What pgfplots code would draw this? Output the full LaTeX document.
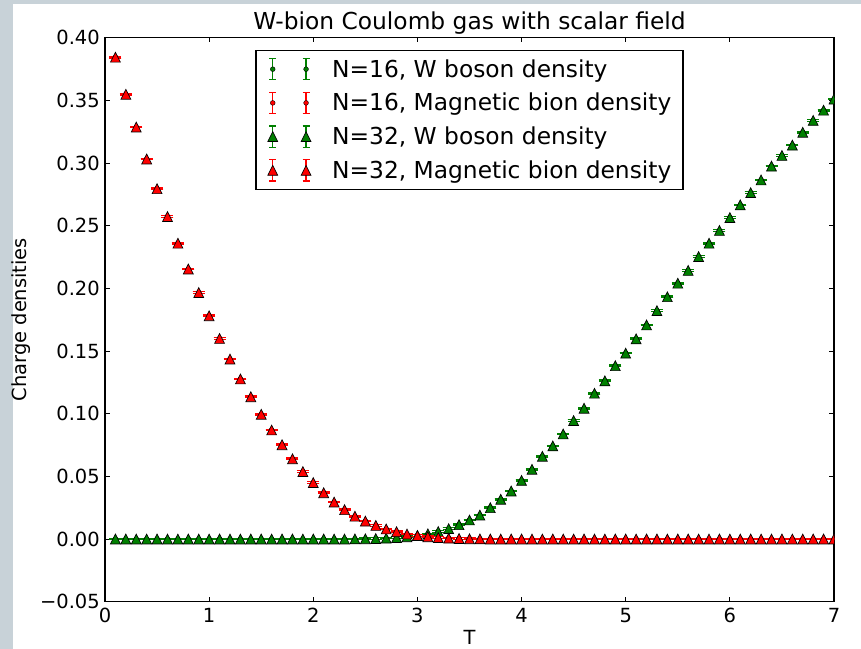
\documentclass[border=0pt]{standalone}
\usepackage{fontspec}
\setmainfont{DejaVu Sans}
\usepackage{pgfplots}
\pgfplotsset{compat=1.18}
\usepackage{pgfplotstable}

\definecolor{mplgreen}{RGB}{0,128,0}
\definecolor{mplred}{RGB}{255,0,0}
\definecolor{bggray}{RGB}{200,210,216}

% matplotlib style '^' marker: box-centred triangle
\pgfdeclareplotmark{mtri}{%
  \pgfpathmoveto{\pgfqpoint{0pt}{\pgfplotmarksize}}%
  \pgfpathlineto{\pgfqpoint{-\pgfplotmarksize}{-\pgfplotmarksize}}%
  \pgfpathlineto{\pgfqpoint{\pgfplotmarksize}{-\pgfplotmarksize}}%
  \pgfpathclose\pgfusepathqfillstroke}

% legend symbol: two points with error bars
\newcommand{\legbar}[2]{%
  \draw[#1, line width=0.9pt] (#2,-8pt) -- (#2,8pt)
    ([xshift=-2.6pt]#2,-8pt) -- ([xshift=2.6pt]#2,-8pt)
    ([xshift=-2.6pt]#2,8pt) -- ([xshift=2.6pt]#2,8pt);}
\newcommand{\legerr}[3]{%
  \legbar{#1}{0pt}\legbar{#1}{25pt}%
  \path[draw=black, fill=#1, line width=0.4pt] plot[only marks, mark=#2, mark size=#3]
    coordinates {(0pt,0pt) (25pt,0pt)};
  \path[draw=none, fill=none] (-8.15pt,-12.65pt) rectangle (40.25pt,12.65pt);}

% T, W boson density, magnetic bion density
\pgfplotstableread{
T   W      M
0.1 0.0    0.3844
0.2 0.0    0.3548
0.3 0.0    0.3287
0.4 0.0    0.3032
0.5 0.0    0.2795
0.6 0.0    0.2573
0.7 0.0    0.2360
0.8 0.0    0.2154
0.9 0.0    0.1966
1.0 0.0    0.1781
1.1 0.0    0.1600
1.2 0.0    0.1436
1.3 0.0    0.1277
1.4 0.0    0.1135
1.5 0.0    0.0995
1.6 0.0    0.0870
1.7 0.0    0.0752
1.8 0.0    0.0640
1.9 0.0    0.0538
2.0 0.0    0.0450
2.1 0.0    0.0369
2.2 0.0    0.0295
2.3 0.0    0.0234
2.4 0.0001 0.0182
2.5 0.0002 0.0143
2.6 0.0004 0.0108
2.7 0.0007 0.0080
2.8 0.0012 0.0058
2.9 0.0018 0.0040
3.0 0.0028 0.0027
3.1 0.0041 0.0018
3.2 0.0060 0.0011
3.3 0.0083 0.0007
3.4 0.0114 0.0004
3.5 0.0152 0.0002
3.6 0.0191 0.0001
3.7 0.0250 0.0
3.8 0.0317 0.0
3.9 0.0383 0.0
4.0 0.0468 0.0
4.1 0.0556 0.0
4.2 0.0660 0.0
4.3 0.0743 0.0
4.4 0.0838 0.0
4.5 0.0945 0.0
4.6 0.1043 0.0
4.7 0.1163 0.0
4.8 0.1262 0.0
4.9 0.1383 0.0
5.0 0.1483 0.0
5.1 0.1597 0.0
5.2 0.1708 0.0
5.3 0.1822 0.0
5.4 0.1933 0.0
5.5 0.2041 0.0
5.6 0.2143 0.0
5.7 0.2253 0.0
5.8 0.2360 0.0
5.9 0.2462 0.0
6.0 0.2565 0.0
6.1 0.2666 0.0
6.2 0.2764 0.0
6.3 0.2865 0.0
6.4 0.2975 0.0
6.5 0.3060 0.0
6.6 0.3143 0.0
6.7 0.3245 0.0
6.8 0.3340 0.0
6.9 0.3421 0.0
7.0 0.3510 0.0
}\dens

\begin{document}
\begin{tikzpicture}
\useasboundingbox (0,0) rectangle (645.75pt,486.75pt);
\fill[bggray] (0,0) rectangle (645.75pt,486.75pt);
\fill[white] (9.75pt,0) rectangle (645.75pt,483.75pt);
\begin{axis}[
  at={(78.75pt,35.5pt)}, anchor=south west,
  scale only axis, width=546.75pt, height=423pt,
  xmin=0, xmax=7, ymin=-0.05, ymax=0.40,
  xtick={0,1,2,3,4,5,6,7},
  xticklabels={0,1,2,3,4,5,6,7},
  ytick={-0.05,0,0.05,0.10,0.15,0.20,0.25,0.30,0.35,0.40},
  yticklabels={−0.05,0.00,0.05,0.10,0.15,0.20,0.25,0.30,0.35,0.40},
  tick align=inside, major tick length=3.5pt,
  tick style={black, line width=0.6pt},
  axis line style={line width=1pt},
  ticklabel style={font=\fontsize{14.6}{17}\selectfont},
  yticklabel style={inner xsep=3.75pt},
  xticklabel style={yshift=-1.3pt},
  title={W-bion Coulomb gas with scalar field},
  every axis title/.style={at={(axis description cs:0.5,1.0149)}, anchor=base,
               font=\fontsize{17.5}{21}\selectfont},
  xlabel={T},
  xlabel style={at={(axis description cs:0.5,-0.0762)}, anchor=base, inner sep=0pt,
                font=\fontsize{14.6}{17}\selectfont},
  ylabel={Charge densities},
  ylabel style={at={(axis description cs:-0.1155,0.5)}, anchor=center,
                font=\fontsize{14.6}{17}\selectfont},
  clip marker paths=true,
  legend cell align=left,
  legend style={at={(0.5,0.979)}, anchor=north, draw=black, line width=1pt,
                inner xsep=4.35pt, inner ysep=1.6pt, row sep=0pt,
                font=\fontsize{17.5}{21}\selectfont,
                nodes={inner xsep=4.35pt, inner ysep=0pt}},
]
\addplot[mplgreen, only marks, mark=*, mark size=1.8pt,
  mark options={draw=black, fill=mplgreen, line width=0.3pt},
  legend image code/.code={\legerr{mplgreen}{*}{1.8pt}},
  error bars/.cd, y dir=both, y fixed=0.0006,
  error bar style={mplgreen, line width=0.9pt},
  error mark options={rotate=90, mplgreen, mark size=4.5pt, line width=0.9pt}]
  table[x=T, y=W] {\dens};
\addlegendentry{N=16, W boson density}
\addplot[mplred, only marks, mark=*, mark size=1.8pt,
  mark options={draw=black, fill=mplred, line width=0.3pt},
  legend image code/.code={\legerr{mplred}{*}{1.8pt}},
  error bars/.cd, y dir=both, y fixed=0.0006,
  error bar style={mplred, line width=0.9pt},
  error mark options={rotate=90, mplred, mark size=4.5pt, line width=0.9pt}]
  table[x=T, y=M] {\dens};
\addlegendentry{N=16, Magnetic bion density}
\addplot[mplgreen, only marks, mark=mtri, mark size=3.7pt,
  mark options={draw=black, fill=mplgreen, line width=0.5pt},
  legend image code/.code={\legerr{mplgreen}{mtri}{3.7pt}},
  error bars/.cd, y dir=both, y fixed=0.0006,
  error bar style={mplgreen, line width=0.9pt},
  error mark options={rotate=90, mplgreen, mark size=4.5pt, line width=0.9pt}]
  table[x=T, y=W] {\dens};
\addlegendentry{N=32, W boson density}
\addplot[mplred, only marks, mark=mtri, mark size=3.7pt,
  mark options={draw=black, fill=mplred, line width=0.5pt},
  legend image code/.code={\legerr{mplred}{mtri}{3.7pt}},
  error bars/.cd, y dir=both, y fixed=0.0006,
  error bar style={mplred, line width=0.9pt},
  error mark options={rotate=90, mplred, mark size=4.5pt, line width=0.9pt}]
  table[x=T, y=M] {\dens};
\addlegendentry{N=32, Magnetic bion density}
\end{axis}
\end{tikzpicture}
\end{document}
